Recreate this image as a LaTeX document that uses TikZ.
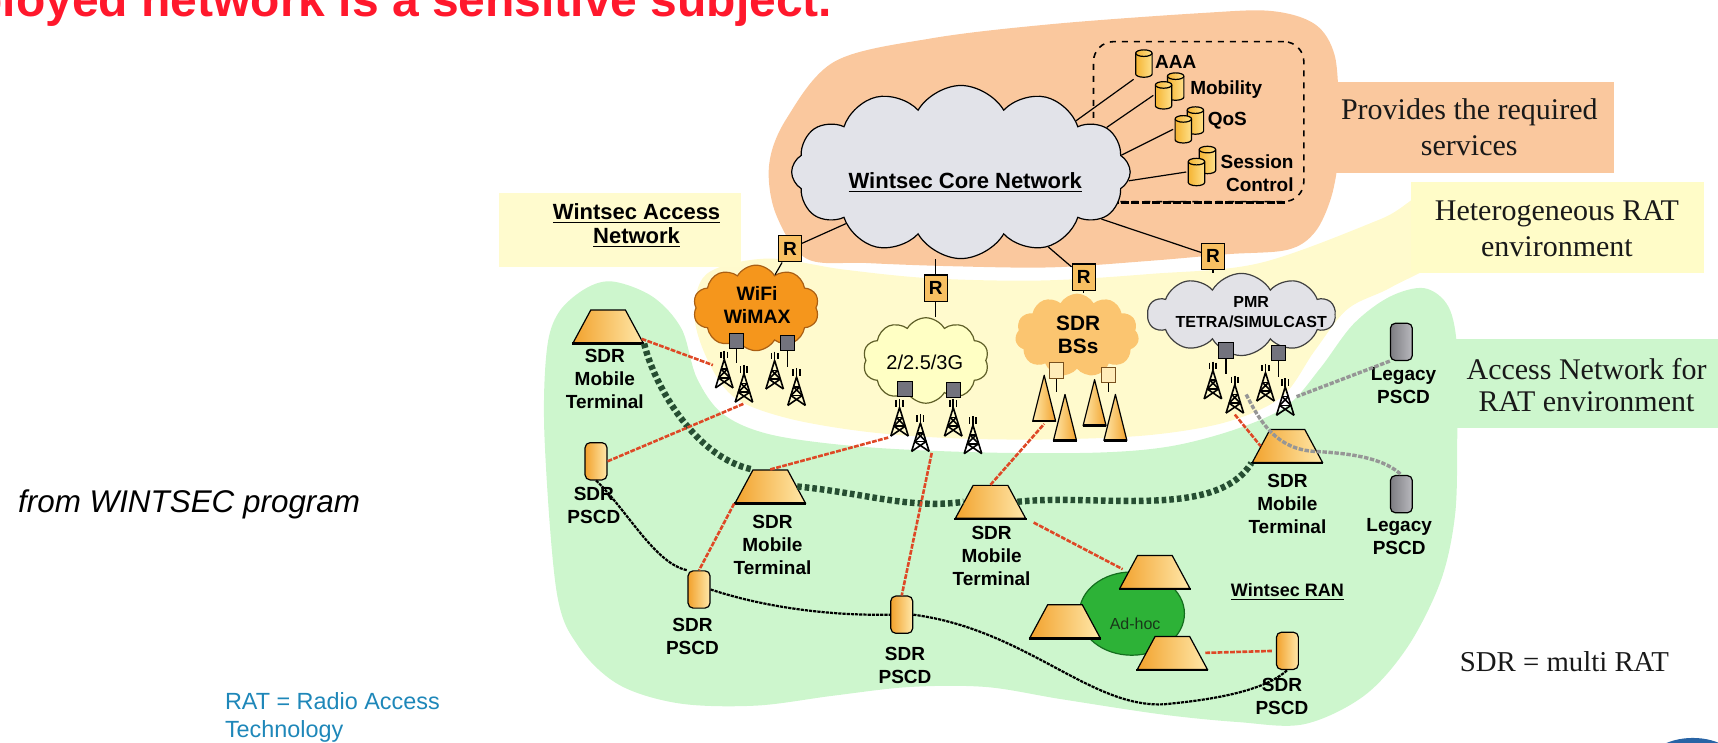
\documentclass[tikz,border=0pt]{standalone}
\usepackage{fontspec}
\setmainfont{Liberation Serif}
\setsansfont{Liberation Sans}
\usetikzlibrary{shapes.geometric,shapes.symbols}
\newcommand{\dpx}{0.54785pt}

\definecolor{peachbg}{RGB}{250,200,158}
\definecolor{yellowbg}{RGB}{255,250,205}
\definecolor{boxyellow}{RGB}{255,251,206}
\definecolor{hetyellow}{RGB}{255,252,200}
\definecolor{greenbg}{RGB}{205,246,205}
\definecolor{coregrey}{RGB}{226,227,233}
\definecolor{wifiorange}{RGB}{245,150,28}
\definecolor{wifiedge}{RGB}{170,95,20}
\definecolor{gthree}{RGB}{255,255,196}
\definecolor{gthreeedge}{RGB}{95,95,40}
\definecolor{bsorange}{RGB}{251,197,112}
\definecolor{pmrgrey}{RGB}{226,226,231}
\definecolor{rfill}{RGB}{248,192,98}
\definecolor{redlink}{RGB}{222,72,38}
\definecolor{meshgreen}{RGB}{38,78,50}
\definecolor{adhocgreen}{RGB}{45,178,55}
\definecolor{adhocedge}{RGB}{20,110,30}
\definecolor{adhoctext}{RGB}{25,55,25}
\definecolor{orgA}{RGB}{242,162,45}
\definecolor{orgB}{RGB}{255,232,170}
\definecolor{dbA}{RGB}{245,180,50}
\definecolor{dbB}{RGB}{255,225,140}
\definecolor{legA}{RGB}{125,125,130}
\definecolor{legB}{RGB}{185,185,190}
\definecolor{legline}{RGB}{150,150,150}
\definecolor{sqgrey}{RGB}{115,115,125}
\definecolor{bsqfill}{RGB}{255,236,185}
\definecolor{bsqedge}{RGB}{120,80,30}
\definecolor{titlered}{RGB}{255,24,44}
\definecolor{notecyan}{RGB}{30,135,185}
\definecolor{cornerblue}{RGB}{40,100,165}

\begin{document}
\begin{tikzpicture}[x=0.54785pt, y=-0.54785pt,
  lbl/.style={font=\sffamily\bfseries\fontsize{9.5}{11.5}\selectfont, align=center, inner sep=0pt},
  svclbl/.style={font=\sffamily\bfseries\fontsize{9.5}{11.5}\selectfont, inner sep=0pt},
  cloudlbl/.style={font=\sffamily\bfseries\fontsize{9.7}{11.5}\selectfont, align=center, inner sep=0pt},
  note/.style={font=\rmfamily\fontsize{15}{18}\selectfont, align=center, inner sep=0pt, text=black!90},
  cloudbase/.style={cloud, cloud ignores aspect, inner sep=0pt, line width=0.6pt},
  mtnode/.style={trapezium, draw, line width=0.6pt, left color=orgA, right color=orgB,
    trapezium left angle=63, trapezium right angle=63, trapezium stretches=true,
    minimum width=64*\dpx, minimum height=30*\dpx, inner sep=1pt},
  pscd/.style={rectangle, rounded corners=2.5pt, draw, line width=0.6pt, left color=orgA, right color=orgB,
    minimum width=20*\dpx, minimum height=34*\dpx, inner sep=0pt},
  legacy/.style={pscd, left color=legA, right color=legB},
  rbox/.style={rectangle, draw, line width=0.6pt, fill=rfill, minimum width=21*\dpx, minimum height=24*\dpx,
    inner sep=0pt, font=\sffamily\bfseries\fontsize{9.5}{11}\selectfont},
  sq/.style={rectangle, draw, line width=0.5pt, fill=sqgrey, minimum width=13*\dpx, minimum height=14*\dpx, inner sep=0pt},
  bsq/.style={sq, fill=bsqfill, draw=bsqedge},
  dbcyl/.style={rectangle, inner sep=0pt, minimum width=18*\dpx, minimum height=28*\dpx,
    path picture={
      \begin{scope}[shift={(path picture bounding box.center)}]
        \shade[left color=dbA, right color=dbB] (-7.5,-9.5) -- (-7.5,9.5)
          arc[start angle=180, end angle=0, x radius=7.5, y radius=3] -- (7.5,-9.5)
          arc[start angle=0, end angle=-180, x radius=7.5, y radius=3] -- cycle;
        \draw[line width=0.6pt] (-7.5,-9.5) -- (-7.5,9.5)
          arc[start angle=180, end angle=0, x radius=7.5, y radius=3] -- (7.5,-9.5)
          arc[start angle=0, end angle=-180, x radius=7.5, y radius=3] -- cycle;
        \draw[line width=0.6pt] (7.5,-9.5) arc[start angle=0, end angle=180, x radius=7.5, y radius=3];
      \end{scope}}},
  tower/.style={rectangle, inner sep=0pt, minimum width=20*\dpx, minimum height=36*\dpx,
    path picture={
      \begin{scope}[shift={(path picture bounding box.center)}, line width=0.8pt, line join=round]
        \draw (-8,17) -- (0,-9) -- (8,17);
        \draw (-2.8,0) -- (2.8,0) (-5.2,8) -- (5.2,8);
        \draw (-2.8,0) -- (5.2,8) (2.8,0) -- (-5.2,8);
        \draw (-5.2,8) -- (8,17) (5.2,8) -- (-8,17);
        \draw (0,-17) -- (0,-9);
        \draw (-3,-16) -- (-3,-10) (3,-16) -- (3,-10);
      \end{scope}}},
  cone/.style={rectangle, inner sep=0pt, minimum width=24*\dpx, minimum height=46*\dpx,
    path picture={
      \begin{scope}[shift={(path picture bounding box.center)}]
        \shade[left color=orgB, right color=orgA] (0,-21) -- (-10.5,21) -- (10.5,21) -- cycle;
        \draw[line width=0.6pt, line join=round] (0,-21) -- (-10.5,21) -- (10.5,21) -- cycle;
        \draw[line width=1.2pt] (-10.5,21) -- (10.5,21);
      \end{scope}}},
  wire/.style={draw, line width=0.6pt},
  radio/.style={draw=redlink, line width=1.3pt, dash pattern=on 2.4pt off 0.7pt},
  mesh/.style={draw=meshgreen, line width=3.2pt, dash pattern=on 2.3pt off 1.5pt},
  pscdlink/.style={draw, line width=1.1pt, dash pattern=on 1.6pt off 0.5pt},
  legacylink/.style={draw=legline, line width=1.7pt, dash pattern=on 2.2pt off 0.8pt}
]
\useasboundingbox (0,0) rectangle (1568,678);
\clip (0,0) rectangle (1568,678);

% ---------- background areas ----------
% heterogeneous RAT environment
\fill[yellowbg] plot[smooth cycle, tension=0.55] coordinates {(645,250) (700,236) (770,246) (850,254) (950,256) (1050,250) (1150,240) (1260,200) (1300,180) (1320,230) (1270,262) (1230,282) (1200,320) (1170,362) (1120,385) (1050,397) (960,401) (870,400) (790,394) (720,382) (672,364) (648,333) (634,290)};
\fill[boxyellow] (455,176) rectangle (676,244);
\fill[hetyellow] (1288,166) rectangle (1555,249);
% access network area
\fill[greenbg] plot[smooth cycle, tension=0.55] coordinates {(497,400) (499,320) (510,285) (535,263) (560,257) (596,271) (622,300) (636,345) (660,378) (705,397) (790,408) (900,413) (1004,413) (1070,407) (1130,391) (1175,370) (1205,336) (1235,296) (1268,271) (1300,263) (1322,280) (1330,320) (1330,400) (1328,470) (1315,530) (1285,590) (1245,635) (1190,661) (1130,659) (1060,652) (968,638) (900,627) (830,627) (760,635) (690,644) (620,642) (565,625) (528,590) (508,540)};
\fill[greenbg] (1328,309) rectangle (1568,391);
% core services area
\fill[peachbg] plot[smooth cycle, tension=0.55] coordinates {(736,236) (708,195) (702,150) (718,108) (762,56) (850,35) (960,22) (1095,12) (1160,10) (1200,22) (1218,50) (1222,100) (1222,140) (1215,180) (1200,212) (1175,228) (1120,232) (1050,238) (960,244) (870,243) (790,240)};
\fill[peachbg] (1213,75) rectangle (1473,158);

% ---------- free texts ----------
\node[anchor=base east, text=titlered, font=\sffamily\bfseries\fontsize{24}{28}\selectfont, inner sep=0pt] (title) at (760,15) {deployed network is a sensitive subject.};
\node[anchor=base east, font=\sffamily\itshape\fontsize{15.7}{18}\selectfont, inner sep=0pt] (src) at (329,468) {from WINTSEC program};
\node[anchor=north west, align=left, text=notecyan, font=\sffamily\fontsize{11.7}{13.7}\selectfont, inner sep=0pt] (ratnote) at (205,632) {RAT = Radio Access\\Technology};
\node[note] (provl) at (1341,116) {Provides the required\\services};
\node[note] (hetl) at (1421,209) {Heterogeneous RAT\\environment};
\node[note, font=\rmfamily\fontsize{15}{16}\selectfont] (accl) at (1448,351) {Access Network for\\RAT environment};
\node[anchor=base west, font=\rmfamily\fontsize{14.4}{17}\selectfont, inner sep=0pt, text=black!90] (sdrnote) at (1332,613) {SDR = multi RAT};
\node[font=\sffamily\bfseries\fontsize{11}{12}\selectfont, align=center, inner sep=0pt] (accbox) at (581,206) {\underline{Wintsec Access}\\\underline{Network}};
\fill[cornerblue] (1545,700.5) ellipse [x radius=43, y radius=27];

% ---------- core network ----------
\node[draw, dashed, line width=0.8pt, rounded corners=10pt, minimum width=192*\dpx, minimum height=146*\dpx, inner sep=0pt] (svc) at (1094,111) {};
\draw[line width=1.6pt, dash pattern=on 4pt off 1.2pt] ([xshift=9pt]svc.south west) -- ([xshift=-9pt]svc.south east);

\node[cloudbase, cloud puffs=12, cloud puff arc=120, fill=coregrey, draw=black, minimum width=309*\dpx, minimum height=158*\dpx] (core) at (877,157) {};
\node[font=\sffamily\bfseries\fontsize{11}{13}\selectfont, inner sep=0pt] (coretxt) at (881,167) {\underline{Wintsec Core Network}};

\node[dbcyl] (aaa) at (1044,58) {};
\node[dbcyl] (mob2) at (1073,79) {};
\node[dbcyl] (mob1) at (1062,87) {};
\node[dbcyl] (qos2) at (1091,110) {};
\node[dbcyl] (qos1) at (1080,118) {};
\node[dbcyl] (ses2) at (1102,146) {};
\node[dbcyl] (ses1) at (1092,157) {};
\node[svclbl, anchor=west] (aaal) at (1054,57) {AAA};
\node[svclbl, anchor=west] (mobl) at (1086,82) {Mobility};
\node[svclbl, anchor=west] (qosl) at (1102,110) {QoS};
\node[svclbl, anchor=east, align=right] (sesl) at (1181,158) {Session\\Control};

\draw[wire] (core.24) -- (aaa.south west);
\draw[wire] (core.17) -- (mob1.west);
\draw[wire] (core.6) -- (qos1.west);
\draw[wire] (core.-3) -- (ses1.west);

% ---------- radio access networks ----------
\node[cloudbase, cloud puffs=10, cloud puff arc=120, fill=wifiorange, draw=wifiedge, minimum width=115*\dpx, minimum height=78*\dpx] (wifi) at (690,281) {};
\node[cloudlbl] (wifil) at (691,278.5) {WiFi\\WiMAX};
\node[cloudbase, cloud puffs=10, cloud puff arc=120, fill=gthree, draw=gthreeedge, minimum width=115*\dpx, minimum height=78*\dpx] (g3) at (845,329) {};
\node[font=\sffamily\fontsize{10}{12}\selectfont, inner sep=0pt] (g3l) at (844,331) {2/2.5/3G};
\node[cloudbase, cloud puffs=11, cloud puff arc=120, fill=bsorange, draw=none, minimum width=113*\dpx, minimum height=76*\dpx] (bs) at (983,306) {};
\node[font=\sffamily\bfseries\fontsize{10.4}{11.5}\selectfont, align=center, inner sep=0pt] (bsl) at (984,305.5) {SDR\\BSs};
\node[cloudbase, cloud puffs=10, cloud puff arc=120, fill=pmrgrey, draw=black!75, minimum width=171*\dpx, minimum height=75*\dpx] (pmr) at (1133,287) {};
\node[font=\sffamily\bfseries\fontsize{8}{9.9}\selectfont, align=center, inner sep=0pt] (pmrl) at (1142,285) {PMR\\TETRA/SIMULCAST};

\node[rbox] (r1) at (721,227) {R};
\node[rbox] (r2) at (854,263) {R};
\node[rbox] (r3) at (989,253) {R};
\node[rbox] (r4) at (1107,234) {R};
\draw[wire] (r1) -- (core);
\draw[wire] (r1) -- (wifi);
\draw[wire] (r2.north) -- (r2.north |- core.south);
\draw[wire] (r2.south) -- (r2.south |- g3.north);
\draw[wire] (r3) -- (core);
\draw[wire] (r3.south) -- (r3.south |- bs.north);
\draw[wire] (r4) -- (core);
\draw[wire] (r4.south) -- (r4.south |- pmr.north);

% base station equipment
\node[sq] (sw1) at (672,311) {};
\node[sq] (sw2) at (719,313) {};
\node[sq] (sg1) at (826,355) {};
\node[sq] (sg2) at (870,356) {};
\node[sq] (sp1) at (1119,320) {};
\node[sq] (sp2) at (1167,322) {};
\node[bsq] (sb1) at (964,338) {};
\node[bsq] (sb2) at (1012,342) {};

\node[tower] (tw1) at (661,337) {};
\node[tower] (tw2) at (679,350) {};
\node[tower] (tw3) at (707,338) {};
\node[tower] (tw4) at (727,353) {};
\node[tower] (tg1) at (821,381) {};
\node[tower] (tg2) at (840,395) {};
\node[tower] (tg3) at (870,381) {};
\node[tower] (tg4) at (888,397) {};
\node[tower] (tp1) at (1107,347) {};
\node[tower] (tp2) at (1127,360) {};
\node[tower] (tp3) at (1155,349) {};
\node[tower] (tp4) at (1173,362) {};

\node[cone] (c1) at (953,363.5) {};
\node[cone] (c3) at (999,367.5) {};
\node[cone] (c2) at (972,381) {};
\node[cone] (c4) at (1018,381) {};

\draw[wire] (sw1.south) -- (sw1.south |- tw2.north);
\draw[wire] (sw2.south) -- (sw2.south |- tw4.north);
\draw[wire] (sg2.south) -- (sg2.south |- tg3.north);
\draw[wire] (sp1.south) -- (sp1.south |- tp2.north);
\draw[wire] (sp2.south) -- (sp2.south |- tp4.north);
\draw[wire] (sb1.south) -- (sb1.south |- c2.north);
\draw[wire] (sb2.south) -- (sb2.south |- c4.north);

% ---------- terminals ----------
\node[mtnode] (mt1) at (555,298) {};
\node[mtnode] (mt2) at (703,444) {};
\node[mtnode] (mt3) at (904,458) {};
\node[mtnode] (mt4) at (1175,407) {};
\node[lbl, anchor=north] (mt1l) at (552,318) {SDR\\Mobile\\Terminal};
\node[lbl, anchor=north] (mt2l) at (705,470) {SDR\\Mobile\\Terminal};
\node[lbl, anchor=north] (mt3l) at (905,480) {SDR\\Mobile\\Terminal};
\node[lbl, anchor=north] (mt4l) at (1175,432) {SDR\\Mobile\\Terminal};

\node[pscd] (p1) at (544,421) {};
\node[pscd] (p2) at (638,538) {};
\node[pscd] (p3) at (823,561) {};
\node[pscd] (p4) at (1175,594) {};
\node[lbl, anchor=north] (p1l) at (542,444) {SDR\\PSCD};
\node[lbl, anchor=north] (p2l) at (632,564) {SDR\\PSCD};
\node[lbl, anchor=north] (p3l) at (826,590) {SDR\\PSCD};
\node[lbl, anchor=north] (p4l) at (1170,619) {SDR\\PSCD};

\node[legacy] (leg1) at (1279,312) {};
\node[legacy] (leg2) at (1279,451) {};
\node[lbl, anchor=north] (leg1l) at (1281,335) {Legacy\\PSCD};
\node[lbl, anchor=north] (leg2l) at (1277,473) {Legacy\\PSCD};

% ad-hoc cluster
\node[ellipse, fill=adhocgreen, draw=adhocedge, line width=0.6pt, minimum width=96*\dpx, minimum height=76*\dpx, inner sep=0pt] (adhoc) at (1033,560) {};
\node[font=\sffamily\fontsize{8}{9}\selectfont, text=adhoctext, inner sep=0pt] (adhocl) at (1036,569) {Ad-hoc};
\node[mtnode] (ah1) at (1054,522) {};
\node[mtnode] (ah2) at (972,567) {};
\node[mtnode] (ah3) at (1070,596) {};
\node[font=\sffamily\bfseries\fontsize{9}{11}\selectfont, inner sep=0pt] (ranl) at (1175,540) {\underline{Wintsec RAN}};

\foreach \n in {mt1,mt2,mt3,mt4,ah1,ah2,ah3}
  \draw[line width=1.3pt] (\n.bottom left corner) -- (\n.bottom right corner);

% ---------- links ----------
\draw[pscdlink] (p1.south) .. controls (572,465) and (598,515) .. (p2.north west);
\draw[pscdlink] (p2.east) .. controls (700,555) and (760,562) .. (p3.west);
\draw[pscdlink] (p3.east) .. controls (940,575) and (1000,652) .. (1070,642) .. controls (1130,636) and (1160,625) .. (p4.south);

\draw[mesh] (mt1.bottom right corner) .. controls (597,352) and (635,418) .. (mt2.top left corner);
\draw[mesh] (mt2.right side) .. controls (790,450) and (830,465) .. (mt3.left side);
\draw[mesh] (mt3.right side) .. controls (1000,450) and (1110,475) .. (mt4.bottom left corner);

\draw[radio] (mt1) -- (tw1);
\draw[radio] (p1.east) -- (tw2.south);
\draw[radio] (mt2.north) -- (tg1.south west);
\draw[radio] (tg2.south east) -- (p3.north);
\draw[radio] (mt3.north) -- (c1.south);
\draw[radio, shorten <=4pt, shorten >=3pt] (mt3.bottom right corner) -- (ah1.left side);
\draw[radio] (mt2.bottom left corner) -- (p2.north);
\draw[radio, shorten <=3pt, shorten >=2pt] (ah3.right side) -- (p4.west);
\draw[radio] (tp2.south) -- (mt4.left side);

\draw[legacylink] (leg1.south west) -- (tp4.east);
\draw[legacylink] (tp2.east) .. controls (1150,385) and (1165,410) .. (1200,412) .. controls (1240,414) and (1265,420) .. (leg2.north);
\end{tikzpicture}
\end{document}
